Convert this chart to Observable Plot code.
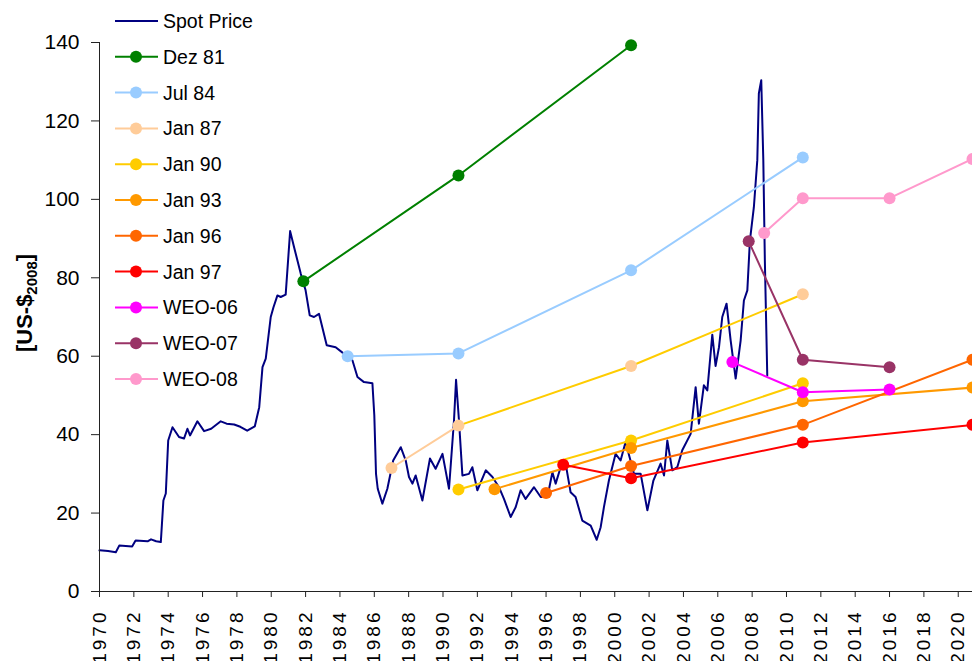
<!DOCTYPE html>
<html>
<head>
<meta charset="utf-8">
<script src="https://cdn.jsdelivr.net/npm/d3@7"></script>
<script src="https://cdn.jsdelivr.net/npm/@observablehq/plot@0.6"></script>
<style>
  html, body { margin: 0; padding: 0; background: #fff; }
  #chart { width: 972px; height: 661px; overflow: hidden; }
</style>
</head>
<body>
<div id="chart"></div>
<script>
// ---------- data ----------
const spotYears = [1970.0,1970.5,1970.95,1971.15,1971.9,1972.1,1972.8,1973.0,1973.3,1973.57,1973.72,1973.86,1974.0,1974.25,1974.63,1974.92,1975.12,1975.27,1975.7,1976.09,1976.5,1977.06,1977.4,1977.84,1978.2,1978.6,1979.04,1979.3,1979.49,1979.68,1979.97,1980.13,1980.36,1980.55,1980.84,1981.1,1981.33,1981.72,1982.0,1982.24,1982.49,1982.78,1983.23,1983.75,1984.24,1984.73,1985.02,1985.4,1985.89,1986.0,1986.1,1986.2,1986.47,1986.76,1987.1,1987.54,1987.83,1988.02,1988.22,1988.41,1988.8,1989.24,1989.57,1989.97,1990.35,1990.64,1990.76,1990.93,1991.13,1991.51,1991.71,1992.0,1992.49,1992.88,1993.26,1993.55,1993.94,1994.23,1994.52,1994.81,1995.3,1995.69,1996.08,1996.37,1996.56,1996.85,1997.14,1997.43,1997.72,1998.11,1998.6,1998.95,1999.18,1999.37,1999.66,2000.05,2000.34,2000.63,2001.12,2001.51,2001.9,2002.25,2002.67,2002.87,2003.06,2003.35,2003.64,2003.93,2004.42,2004.71,2004.9,2005.19,2005.39,2005.68,2005.87,2006.07,2006.26,2006.51,2006.75,2007.04,2007.33,2007.52,2007.72,2007.87,2008.1,2008.3,2008.39,2008.53,2008.65,2008.74,2008.88];
const spotValues = [10.5,10.3,10.0,11.7,11.5,13.0,12.8,13.3,12.8,12.6,23.2,25.0,38.5,41.9,39.4,39.0,41.5,39.8,43.4,40.9,41.5,43.4,42.8,42.6,42.0,41.0,42.1,47.0,57.2,59.4,70.0,72.5,75.5,75.1,75.7,91.9,87.8,81.0,76.8,70.4,70.0,70.8,62.8,62.3,60.6,58.9,54.7,53.4,53.1,45.0,30.0,26.2,22.4,26.2,33.4,36.8,33.4,29.2,27.5,29.6,23.2,33.9,31.3,35.1,26.2,43.6,54.0,43.6,29.6,30.0,31.7,25.8,30.9,29.2,26.6,23.6,19.0,21.5,25.8,23.6,26.6,24.1,24.1,30.4,27.5,31.7,32.6,25.3,24.1,18.1,16.8,13.2,16.4,21.5,28.3,35.1,33.4,38.1,30.0,30.0,20.7,28.3,32.6,29.6,38.5,30.9,31.7,36.0,40.2,52.1,42.8,52.6,51.3,65.5,57.5,62.3,70.0,73.4,64.0,54.3,64.0,74.2,76.8,89.5,98.0,110.0,127.0,130.4,110.0,84.4,55.1];

const dez81Years = [1981.87, 1990.9, 2000.95];
const dez81Values = [79.1, 106.1, 139.3];
const jul84Years = [1984.45, 1990.9, 2000.95, 2010.95];
const jul84Values = [60.0, 60.7, 81.9, 110.7];
const jan87Years = [1987.0, 1990.9, 2000.95, 2010.95];
const jan87Values = [31.5, 42.3, 57.5, 75.8];
const jan90Years = [1990.9, 2000.95, 2010.95];
const jan90Values = [26.0, 38.5, 53.1];
const jan93Years = [1993.0, 2000.95, 2010.95, 2020.83];
const jan93Values = [26.1, 36.6, 48.5, 52.0];
const jan96Years = [1996.0, 2000.95, 2010.95, 2020.83];
const jan96Values = [25.1, 32.0, 42.5, 59.1];
const jan97Years = [1997.0, 2000.95, 2010.95, 2020.83];
const jan97Values = [32.3, 28.9, 38.0, 42.5];
const weo06Years = [2006.85, 2010.95, 2016.0];
const weo06Values = [58.5, 50.8, 51.5];
const weo07Years = [2007.8, 2010.95, 2016.0];
const weo07Values = [89.3, 59.1, 57.2];
const weo08Years = [2008.7, 2010.95, 2016.0, 2020.83];
const weo08Values = [91.4, 100.3, 100.3, 110.3];

const seriesNames = ["Dez 81","Jul 84","Jan 87","Jan 90","Jan 93","Jan 96","Jan 97","WEO-06","WEO-07","WEO-08"];
const seriesColors = ["#008000","#99CCFF","#FFCC99","#FFCC00","#FF9900","#FF6600","#FF0000","#FF00FF","#993366","#FF99CC"];
const seriesYears = [dez81Years, jul84Years, jan87Years, jan90Years, jan93Years, jan96Years, jan97Years, weo06Years, weo07Years, weo08Years];
const seriesValues = [dez81Values, jul84Values, jan87Values, jan90Values, jan93Values, jan96Values, jan97Values, weo06Values, weo07Values, weo08Values];

const spotName = "Spot Price";
const spotColor = "#000080";
const xTicks = d3.range(1970, 2021, 2);
const yTicks = [0, 20, 40, 60, 80, 100, 120, 140];
const yLabelMain = "[US-$";
const yLabelSub = "2008";
const yLabelEnd = "]";

// ---------- tables ----------
const spot = spotYears.map((t, i) => ({year: t, value: spotValues[i]}));
const series = seriesNames.map((name, k) => ({
  name, color: seriesColors[k],
  rows: seriesYears[k].map((t, i) => ({year: t, value: seriesValues[k][i]}))
}));

// ---------- marks ----------
const marks = [
  Plot.line(spot, {x: "year", y: "value", stroke: spotColor, strokeWidth: 2, strokeLinejoin: "round"})
];
series.forEach((s) => {
  if (s.name === "Jan 87") {
    // first segment in its own colour, the remaining segments drawn in yellow as in the source
    marks.push(Plot.line(s.rows.slice(1), {x: "year", y: "value", stroke: seriesColors[3], strokeWidth: 2}));
    marks.push(Plot.line(s.rows.slice(0, 2), {x: "year", y: "value", stroke: s.color, strokeWidth: 2}));
  } else {
    marks.push(Plot.line(s.rows, {x: "year", y: "value", stroke: s.color, strokeWidth: 2}));
  }
  marks.push(Plot.dot(s.rows, {x: "year", y: "value", r: 6, fill: s.color, stroke: "none"}));
});

marks.push(
  Plot.ruleY([0], {stroke: "#222", strokeWidth: 1}),
  Plot.ruleX([1970], {y1: 0, y2: 140, stroke: "#222", strokeWidth: 1}),
  Plot.axisX({ticks: xTicks, tickFormat: (d) => String(d), tickRotate: -90, tickSize: 6, tickPadding: 12, fontSize: 19, label: null, stroke: "#222", fill: "#000"}),
  Plot.axisY({ticks: yTicks, tickSize: 8, tickPadding: 12, fontSize: 21, label: null, stroke: "#222", fill: "#000"})
);

const chart = Plot.plot({
  width: 972,
  height: 661,
  marginLeft: 99,
  marginRight: 0,
  marginTop: 42,
  marginBottom: 70,
  x: {domain: [1970, 2020.83]},
  y: {domain: [0, 140]},
  style: {fontFamily: "'Liberation Sans', Arial, sans-serif", background: "#fff", color: "#000"},
  marks
});
document.getElementById("chart").appendChild(chart);

const svg = d3.select(chart);
svg.style("overflow", "hidden");
svg.selectAll('g[aria-label="x-axis tick label"] text').attr("letter-spacing", "3px");

// y-axis title with subscript
const yt = svg.append("text")
  .attr("transform", "translate(32,303) rotate(-90)")
  .attr("text-anchor", "middle")
  .attr("font-family", "'Liberation Sans', Arial, sans-serif")
  .attr("font-weight", "bold")
  .attr("font-size", 22)
  .attr("fill", "#000");
yt.append("tspan").text(yLabelMain);
yt.append("tspan").attr("font-size", 15).attr("dy", 5).text(yLabelSub);
yt.append("tspan").attr("dy", -5).text(yLabelEnd);

// legend
const legend = svg.append("g")
  .attr("font-family", "'Liberation Sans', Arial, sans-serif")
  .attr("font-size", 19.5)
  .attr("text-anchor", "start");
const legendItems = [{name: spotName, color: spotColor, dot: false}].concat(series.map((s) => ({name: s.name, color: s.color, dot: true})));
legendItems.forEach((it, i) => {
  const cy = 21 + i * 35.8;
  const g = legend.append("g");
  g.append("line").attr("x1", 115).attr("x2", 158).attr("y1", cy).attr("y2", cy)
    .attr("stroke", it.color).attr("stroke-width", 2);
  if (it.dot) g.append("circle").attr("cx", 136).attr("cy", cy).attr("r", 6).attr("fill", it.color);
  g.append("text").attr("x", 163).attr("y", cy).attr("dy", "0.36em")
    .attr("text-anchor", "start").attr("fill", "#000").text(it.name);
});
</script>
</body>
</html>
